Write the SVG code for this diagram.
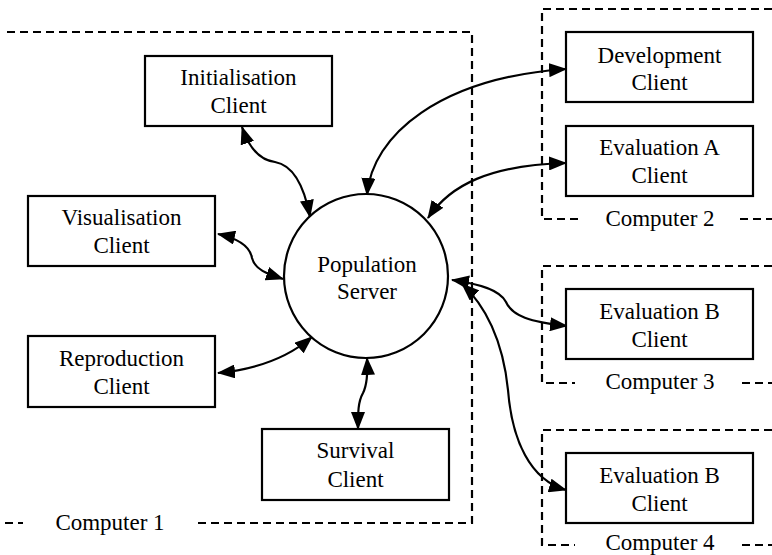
<svg xmlns="http://www.w3.org/2000/svg" width="772" height="555" viewBox="0 0 772 555">
<style>
.box{fill:#fff;stroke:#000;stroke-width:2.2}
.grp{fill:none;stroke:#000;stroke-width:2.2;stroke-dasharray:8 5}
text{font-family:'Liberation Serif',serif;font-size:23px;fill:#000;text-anchor:middle}
.c{fill:none;stroke:#000;stroke-width:2.2;marker-start:url(#ah);marker-end:url(#ah)}
</style>
<defs>
<marker id="ah" viewBox="0 0 18 14" refX="17" refY="7" markerWidth="18" markerHeight="14" markerUnits="userSpaceOnUse" orient="auto-start-reverse">
<path d="M0,0 L18,7 L0,14 z" fill="#000"/>
</marker>
</defs>
<g id="groups">
<path class="grp" d="M7,32 H472 V523 H193"/>
<path class="grp" d="M5,523 H23"/>
<text x="110" y="530">Computer 1</text>
<path class="grp" d="M772,9 H542 V219 H580"/>
<path class="grp" d="M740,219 H772"/>
<text x="660" y="226">Computer 2</text>
<path class="grp" d="M772,266 H542 V383 H575"/>
<path class="grp" d="M742,383 H772"/>
<text x="660" y="389">Computer 3</text>
<path class="grp" d="M772,430 H542 V545 H575"/>
<path class="grp" d="M742,545 H772"/>
<text x="660" y="550">Computer 4</text>
</g>
<g id="connectors">
<path class="c" d="M242,127 C248,145 258,160 275,162 C292,165 304,185 310,217"/>
<path class="c" d="M218,234 C236,238 250,246 252,258 C255,270 268,274 283,279"/>
<path class="c" d="M218,373 C250,370 285,360 312,337"/>
<path class="c" d="M367,358 C368,375 367,385 363,393 C358,402 358,412 358,429"/>
<path class="c" d="M367,195 C372,135 440,78 566,69"/>
<path class="c" d="M428,218 C450,185 490,165 566,163"/>
<path class="c" d="M452,280 C480,284 500,290 506,302 C512,316 530,322 567,326"/>
<path class="c" d="M462,284 C485,305 503,340 508,390 C512,440 530,480 566,490"/>
</g>
<g id="server">
<circle class="box" cx="366" cy="276" r="82"/>
<text x="367" y="272">Population</text>
<text x="367" y="299">Server</text>
</g>
<g id="init">
<rect class="box" x="145" y="56" width="187" height="70"/>
<text x="238.5" y="85">Initialisation</text>
<text x="238.5" y="113">Client</text>
</g>
<g id="vis">
<rect class="box" x="28" y="196" width="187" height="70"/>
<text x="121.5" y="225">Visualisation</text>
<text x="121.5" y="253">Client</text>
</g>
<g id="repro">
<rect class="box" x="28" y="336" width="187" height="71"/>
<text x="121.5" y="366">Reproduction</text>
<text x="121.5" y="394">Client</text>
</g>
<g id="survival">
<rect class="box" x="262" y="429" width="187" height="71"/>
<text x="355.5" y="458">Survival</text>
<text x="355.5" y="487">Client</text>
</g>
<g id="dev">
<rect class="box" x="566" y="32" width="187" height="70"/>
<text x="659.5" y="63">Development</text>
<text x="659.5" y="90">Client</text>
</g>
<g id="evalA">
<rect class="box" x="566" y="126" width="187" height="70"/>
<text x="659.5" y="155">Evaluation A</text>
<text x="659.5" y="183">Client</text>
</g>
<g id="evalB3">
<rect class="box" x="566" y="289" width="187" height="70"/>
<text x="659.5" y="319">Evaluation B</text>
<text x="659.5" y="347">Client</text>
</g>
<g id="evalB4">
<rect class="box" x="566" y="453" width="187" height="70"/>
<text x="659.5" y="483">Evaluation B</text>
<text x="659.5" y="511">Client</text>
</g>
</svg>
